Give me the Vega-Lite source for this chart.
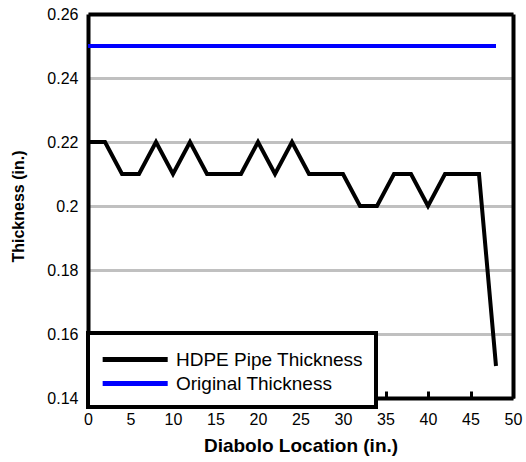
{
  "$schema": "https://vega.github.io/schema/vega-lite/v6.json",
  "width": 425,
  "height": 384,
  "autosize": {"type": "none"},
  "padding": {"left": 88, "top": 14, "right": 13, "bottom": 64},
  "background": "white",
  "view": {"stroke": null},
  "config": {
    "font": "Liberation Sans",
    "axis": {"labelFont": "Liberation Sans", "titleFont": "Liberation Sans"}
  },
  "data": {
    "values": [
      {"x": 0, "y": 0.22, "s": "HDPE Pipe Thickness"},
      {"x": 2, "y": 0.22, "s": "HDPE Pipe Thickness"},
      {"x": 4, "y": 0.21, "s": "HDPE Pipe Thickness"},
      {"x": 6, "y": 0.21, "s": "HDPE Pipe Thickness"},
      {"x": 8, "y": 0.22, "s": "HDPE Pipe Thickness"},
      {"x": 10, "y": 0.21, "s": "HDPE Pipe Thickness"},
      {"x": 12, "y": 0.22, "s": "HDPE Pipe Thickness"},
      {"x": 14, "y": 0.21, "s": "HDPE Pipe Thickness"},
      {"x": 16, "y": 0.21, "s": "HDPE Pipe Thickness"},
      {"x": 18, "y": 0.21, "s": "HDPE Pipe Thickness"},
      {"x": 20, "y": 0.22, "s": "HDPE Pipe Thickness"},
      {"x": 22, "y": 0.21, "s": "HDPE Pipe Thickness"},
      {"x": 24, "y": 0.22, "s": "HDPE Pipe Thickness"},
      {"x": 26, "y": 0.21, "s": "HDPE Pipe Thickness"},
      {"x": 28, "y": 0.21, "s": "HDPE Pipe Thickness"},
      {"x": 30, "y": 0.21, "s": "HDPE Pipe Thickness"},
      {"x": 32, "y": 0.2, "s": "HDPE Pipe Thickness"},
      {"x": 34, "y": 0.2, "s": "HDPE Pipe Thickness"},
      {"x": 36, "y": 0.21, "s": "HDPE Pipe Thickness"},
      {"x": 38, "y": 0.21, "s": "HDPE Pipe Thickness"},
      {"x": 40, "y": 0.2, "s": "HDPE Pipe Thickness"},
      {"x": 42, "y": 0.21, "s": "HDPE Pipe Thickness"},
      {"x": 44, "y": 0.21, "s": "HDPE Pipe Thickness"},
      {"x": 46, "y": 0.21, "s": "HDPE Pipe Thickness"},
      {"x": 48, "y": 0.15, "s": "HDPE Pipe Thickness"},
      {"x": 0, "y": 0.25, "s": "Original Thickness"},
      {"x": 48, "y": 0.25, "s": "Original Thickness"}
    ]
  },
  "layer": [
    {
      "mark": {"type": "line", "strokeWidth": 4, "strokeJoin": "miter", "clip": true},
      "encoding": {
        "x": {
          "field": "x", "type": "quantitative",
          "scale": {"domain": [0, 50], "nice": false, "zero": false},
          "axis": {
            "orient": "bottom",
            "offset": -7,
            "values": [0, 5, 10, 15, 20, 25, 30, 35, 40, 45, 50],
            "title": "Diabolo Location (in.)",
            "titleFontSize": 19, "titleFontWeight": "bold", "titleColor": "black",
            "titlePadding": 9,
            "labelFontSize": 16, "labelColor": "black", "labelPadding": 13,
            "labelFlush": false,
            "domain": false,
            "grid": false,
            "tickSize": 7, "tickWidth": 3, "tickColor": "black"
          }
        },
        "y": {
          "field": "y", "type": "quantitative",
          "scale": {"domain": [0.14, 0.26], "nice": false, "zero": false},
          "axis": {
            "orient": "left",
            "values": [0.14, 0.16, 0.18, 0.2, 0.22, 0.24, 0.26],
            "format": "~g",
            "title": "Thickness (in.)",
            "titleFontSize": 16, "titleFontWeight": "bold", "titleColor": "black",
            "titlePadding": 20,
            "labelFontSize": 16, "labelColor": "black", "labelPadding": 10,
            "labelFlush": false,
            "domain": true, "domainColor": "black", "domainWidth": 4,
            "ticks": false,
            "grid": true, "gridColor": "#c0c0c0", "gridWidth": 3
          }
        },
        "color": {
          "field": "s", "type": "nominal",
          "scale": {"domain": ["HDPE Pipe Thickness", "Original Thickness"], "range": ["black", "#0000ff"]},
          "legend": {
            "title": null,
            "orient": "none",
            "legendX": 0,
            "legendY": 319,
            "fillColor": "white",
            "strokeColor": "black",
            "padding": 13,
            "symbolType": "M-1,0H5",
            "symbolSize": 470,
            "symbolStrokeWidth": 5,
            "symbolOffset": -1,
            "labelFontSize": 19,
            "labelColor": "black",
            "labelOffset": 49,
            "rowPadding": -5,
            "labelLimit": 300,
            "encode": {"legend": {"update": {"strokeWidth": {"value": 4}}}}
          }
        }
      }
    },
    {
      "mark": {"type": "line", "opacity": 0},
      "encoding": {
        "x": {
          "field": "x", "type": "quantitative",
          "scale": {"domain": [0, 50], "nice": false, "zero": false},
          "axis": {"orient": "top", "title": null, "labels": false, "ticks": false, "grid": false, "domain": true, "domainColor": "black", "domainWidth": 4}
        },
        "y": {
          "field": "y", "type": "quantitative",
          "scale": {"domain": [0.14, 0.26], "nice": false, "zero": false},
          "axis": {"orient": "right", "title": null, "labels": false, "ticks": false, "grid": false, "domain": true, "domainColor": "black", "domainWidth": 4}
        }
      }
    },
    {
      "mark": {"type": "line", "opacity": 0},
      "encoding": {
        "x": {
          "field": "x", "type": "quantitative",
          "scale": {"domain": [0, 50], "nice": false, "zero": false},
          "axis": {"orient": "bottom", "title": null, "labels": false, "ticks": false, "grid": false, "domain": true, "domainColor": "black", "domainWidth": 4}
        },
        "y": {
          "field": "y", "type": "quantitative",
          "scale": {"domain": [0.14, 0.26], "nice": false, "zero": false},
          "axis": null
        }
      }
    }
  ],
  "resolve": {"axis": {"x": "independent", "y": "independent"}}
}
